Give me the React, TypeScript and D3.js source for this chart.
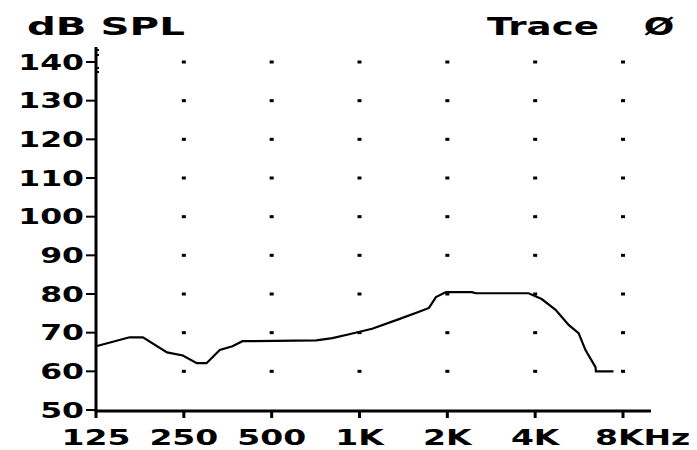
import React from "react";
import * as d3 from "d3";

// Measured response (frequency in Hz, level in dB SPL)
const freqs = [125, 163, 181, 219, 248, 277, 299, 332, 367, 397, 711, 807, 922, 1105, 1366, 1600, 1730, 1828, 1979, 2425, 2505, 3800, 4210, 4700, 5210, 5635, 5950, 6440, 6460, 7420];
const levels = [66.5, 68.8, 68.8, 64.9, 64.1, 62.1, 62.1, 65.5, 66.5, 67.8, 68, 68.6, 69.6, 71, 73.5, 75.4, 76.4, 79.2, 80.5, 80.5, 80.2, 80.2, 78.7, 75.9, 72, 69.9, 65.5, 61.1, 60, 60];

const xTickValues = [125, 250, 500, 1000, 2000, 4000, 8000];
const xTickLabels = ["125", "250", "500", "1K", "2K", "4K", "8K"];
const yTickValues = [50, 60, 70, 80, 90, 100, 110, 120, 130, 140];
const gridLevels = [60, 70, 80, 90, 100, 110, 120, 130, 140];

const W = 697;
const H = 450;
const FONT = "'DejaVu Sans', sans-serif";

export default function App() {
  const x = d3.scaleLog().base(2).domain([125, 8000]).range([96, 623]);
  const y = d3.scaleLinear().domain([50, 140]).range([410, 62]);

  const line = d3
    .line<number>()
    .x((_, i) => x(freqs[i]))
    .y((d) => y(d));

  const label = (
    tx: number,
    ty: number,
    text: string,
    anchor: "start" | "middle" | "end",
    size: number,
    dy = 0,
    sx = 1.5
  ) => (
    <g transform={`translate(${tx},${ty}) scale(${sx},1)`}>
      <text
        textAnchor={anchor}
        dy={dy}
        fontFamily={FONT}
        fontWeight="bold"
        fontSize={size}
        fill="#000"
      >
        {text}
      </text>
    </g>
  );

  return (
    <svg
      width={W}
      height={H}
      style={{ position: "absolute", left: 0, top: 0, background: "#fff" }}
    >
      <rect width={W} height={H} fill="#fff" />

      {/* dotted grid */}
      {xTickValues.slice(1).map((f) =>
        gridLevels.map((l) => (
          <rect
            key={`g${f}-${l}`}
            x={x(f) - 2}
            y={y(l) - 1.5}
            width={4}
            height={3}
            fill="#000"
          />
        ))
      )}

      {/* axes */}
      <line x1={96} x2={96} y1={47} y2={412} stroke="#000" strokeWidth={3} />
      <line x1={95} x2={651} y1={y(50) + 1} y2={y(50) + 1} stroke="#000" strokeWidth={3} />

      {/* y ticks and labels */}
      {yTickValues.map((v) => (
        <g key={`y${v}`}>
          <line x1={86} x2={96} y1={y(v)} y2={y(v)} stroke="#000" strokeWidth={2} />
          {label(84, y(v), String(v), "end", 21, 7.5)}
        </g>
      ))}
      {/* minor ticks near the top */}
      {[50, 55, 68, 72].map((yy) => (
        <line key={`m${yy}`} x1={96} x2={99} y1={yy} y2={yy} stroke="#000" strokeWidth={2} />
      ))}

      {/* x ticks and labels */}
      {xTickValues.map((f, i) => (
        <g key={`x${f}`}>
          <line x1={x(f)} x2={x(f)} y1={y(50)} y2={y(50) + 8} stroke="#000" strokeWidth={3} />
          {f === 8000
            ? label(x(f) - 28, 445, xTickLabels[i] + "Hz", "start", 22, 0)
            : label(x(f), 445, xTickLabels[i], "middle", 22, 0)}
        </g>
      ))}

      {/* response curve */}
      <path d={line(levels) || ""} fill="none" stroke="#000" strokeWidth={2.2} />

      {/* titles */}
      {label(27, 35, "dB SPL", "start", 24, 0, 1.68)}
      {label(487, 35, "Trace", "start", 24, 0, 1.55)}
      {label(659, 35, "Ø", "middle", 24)}
    </svg>
  );
}
